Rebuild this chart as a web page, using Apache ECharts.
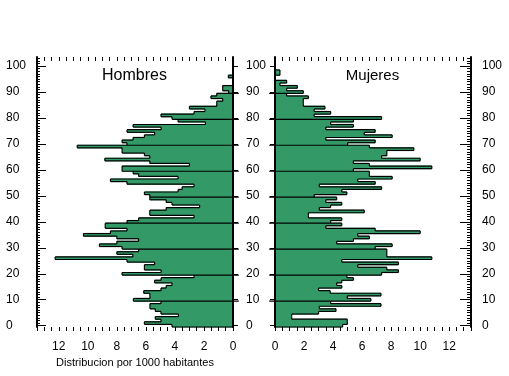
<!DOCTYPE html>
<html>
<head>
<meta charset="utf-8">
<script src="https://cdn.jsdelivr.net/npm/echarts@6/dist/echarts.min.js"></script>
<style>
  html, body { margin: 0; padding: 0; background: #fff; }
  #chart { width: 509px; height: 376px; }
</style>
</head>
<body>
<div id="chart"></div>
<script>
// edades 0..103 (categorias del eje vertical)
var edades = [];
for (var k = 0; k <= 103; k++) edades.push(String(k));

// Hombres, edad 0..100 (por 1000 habitantes)
var hombres = [
  4.2, 6.1, 4.96, 5.35, 3.76, 4.96, 5.35, 5.72, 5.72, 4.96,
  6.86, 5.72, 5.73, 6.15, 4.96, 4.6, 4.2, 5.4, 4.95, 2.68,
  7.64, 4.95, 6.1, 6.1, 5.4, 7.3, 12.25, 6.9, 8.0, 6.5,
  7.64, 9.2, 8.0, 6.5, 8.0, 10.3, 8.44, 7.3, 8.8, 8.8,
  7.3, 6.5, 2.68, 5.73, 5.73, 4.6, 2.3, 4.2, 4.6, 5.73,
  5.73, 6.1, 3.78, 3.5, 2.68, 7.3, 8.44, 3.78, 6.5, 6.88,
  7.64, 7.64, 3.0, 5.73, 8.83, 5.73, 6.1, 7.64, 7.64, 10.73,
  7.3, 7.64, 6.88, 6.1, 5.4, 7.3, 4.95, 6.88, 1.9, 3.78,
  4.2, 4.96, 2.68, 1.93, 3.0, 1.12, 1.12, 0.71, 1.52, 1.12,
  0.3, 0.71, 0.71, 0, 0, 0, 0.32, 0, 0, 0,
  0
];

// Mujeres, edad 0..100
var mujeres = [
  4.66, 4.98, 4.98, 1.15, 1.15, 3.0, 4.2, 3.05, 7.3, 3.83,
  6.6, 4.98, 7.3, 3.8, 3.0, 4.6, 4.25, 4.6, 5.4, 4.95,
  7.34, 8.5, 7.7, 5.7, 8.5, 4.6, 10.8, 7.7, 7.7, 7.7,
  6.9, 8.07, 4.25, 5.4, 6.5, 5.7, 10.0, 6.9, 3.5, 4.6,
  3.83, 4.6, 2.3, 2.3, 6.15, 3.05, 3.83, 4.6, 3.5, 4.25,
  2.7, 4.95, 4.6, 7.34, 3.05, 6.9, 5.7, 8.07, 6.5, 6.5,
  5.4, 10.8, 6.5, 5.4, 10.0, 7.34, 7.7, 7.7, 9.56, 6.5,
  5.0, 6.9, 3.5, 8.07, 6.15, 6.9, 3.5, 5.4, 3.83, 5.4,
  7.34, 2.7, 3.83, 2.7, 3.44, 1.95, 1.95, 1.95, 2.3, 0.8,
  1.95, 0.8, 1.54, 0.34, 0.8, 0, 0, 0.34, 0.34, 0,
  0
];

var GREEN = '#339966';
var LW = 1.2;
var FONT = 'Liberation Sans, Arial, sans-serif';

var myChart = echarts.init(document.getElementById('chart'));

// relleno de cada edad (franja verde sin borde)
function renderFill(params, api) {
  var v = api.value(0);
  var i = api.value(1);
  if (!(v > 0)) return null;
  var c = api.coord([v, i]);
  var c0 = api.coord([0, i]);
  var bh = api.size([0, 1])[1];
  return {
    type: 'rect',
    shape: { x: Math.min(c0[0], c[0]), y: c[1] - bh / 2 - 0.5, width: Math.abs(c[0] - c0[0]), height: bh + 1 },
    style: { fill: GREEN }
  };
}

// contorno negro: borde exterior y linea de separacion de cada decenio
function makeOutline(vals) {
  return function (params, api) {
    var v = api.value(0);
    var i = api.value(1);
    var c = api.coord([v, i]);
    var c0 = api.coord([0, i]);
    var bh = api.size([0, 1])[1];
    var yTop = c[1] - bh / 2;
    var yBot = c[1] + bh / 2;
    var line = { stroke: '#000', lineWidth: LW };
    var children = [];
    if (v > 0) {
      children.push({ type: 'line', shape: { x1: c[0], y1: yTop, x2: c[0], y2: yBot }, style: line });
    }
    var next = i + 1 < vals.length ? vals[i + 1] : 0;
    if (i % 10 === 9) {
      var m = Math.max(v, next);
      if (m > 0) {
        children.push({ type: 'line', shape: { x1: api.coord([-0.4, i])[0], y1: yTop, x2: api.coord([m, i])[0], y2: yTop }, style: line });
      }
    } else if (v !== next) {
      children.push({ type: 'line', shape: { x1: c[0], y1: yTop, x2: api.coord([next, i])[0], y2: yTop }, style: line });
    }
    if (i === 0 && v > 0) {
      children.push({ type: 'line', shape: { x1: c0[0], y1: yBot, x2: c[0], y2: yBot }, style: line });
    }
    return { type: 'group', children: children };
  };
}

function xAx(grid, pos, inverse, labels) {
  return {
    type: 'value', gridIndex: grid, position: pos, inverse: inverse,
    min: 0, max: 13.5, interval: 0.5, z: 5,
    axisLine: { onZero: false, lineStyle: { color: '#000', width: 2 } },
    axisTick: { show: true, inside: pos === 'top', length: 4, lineStyle: { color: '#000' } },
    axisLabel: {
      show: labels, color: '#000', fontSize: 12, fontFamily: FONT, margin: 14,
      formatter: function (val) { return val % 2 === 0 ? String(val) : ''; }
    },
    splitLine: { show: false }
  };
}

function yAx(grid, pos, opt) {
  return {
    type: 'category', gridIndex: grid, position: pos, data: edades, z: 5,
    axisLine: { show: opt.line, onZero: false, lineStyle: { color: '#000', width: 2 } },
    axisTick: { show: true, inside: opt.inside, length: opt.len, interval: opt.every, alignWithLabel: true, lineStyle: { color: '#000' } },
    axisLabel: {
      show: opt.labels, interval: 9, color: '#000', fontSize: 12, fontFamily: FONT,
      align: 'left', margin: opt.margin || 8
    },
    splitLine: { show: false }
  };
}

var xLeft = xAx(0, 'bottom', true, true);
xLeft.name = 'Distribucion por 1000 habitantes';
xLeft.nameLocation = 'middle';
xLeft.nameGap = 30;
xLeft.nameTextStyle = { color: '#000', fontSize: 11, fontFamily: FONT };

var option = {
  animation: false,
  backgroundColor: '#fff',
  grid: [
    { left: 37, top: 57, width: 196, height: 270 },
    { left: 275, top: 57, width: 196, height: 270 }
  ],
  xAxis: [
    xLeft,
    xAx(0, 'top', true, false),
    xAx(1, 'bottom', false, true),
    xAx(1, 'top', false, false)
  ],
  yAxis: [
    yAx(0, 'left', { line: true, inside: true, len: 9, every: 9, labels: true, margin: 31 }),
    yAx(0, 'left', { line: false, inside: true, len: 3, every: 0, labels: false }),
    yAx(0, 'right', { line: true, inside: false, len: 5, every: 9, labels: false }),
    yAx(1, 'left', { line: true, inside: false, len: 5, every: 9, labels: true, margin: 29 }),
    yAx(1, 'right', { line: true, inside: true, len: 11, every: 9, labels: true, margin: 11 }),
    yAx(1, 'right', { line: false, inside: true, len: 4, every: 0, labels: false })
  ],
  graphic: [
    { type: 'text', x: 134.5, y: 76, style: { text: 'Hombres', fill: '#000', fontSize: 16, fontFamily: FONT, align: 'center', verticalAlign: 'middle' } },
    { type: 'text', x: 372.5, y: 76, style: { text: 'Mujeres', fill: '#000', fontSize: 15, fontFamily: FONT, align: 'center', verticalAlign: 'middle' } }
  ],
  series: [
    {
      name: 'Hombres', type: 'custom', xAxisIndex: 0, yAxisIndex: 0, z: 2,
      renderItem: renderFill,
      data: hombres.map(function (v, i) { return [v, i]; })
    },
    {
      name: 'Hombres borde', type: 'custom', xAxisIndex: 0, yAxisIndex: 0, z: 3,
      renderItem: makeOutline(hombres),
      data: hombres.map(function (v, i) { return [v, i]; })
    },
    {
      name: 'Mujeres', type: 'custom', xAxisIndex: 2, yAxisIndex: 3, z: 2,
      renderItem: renderFill,
      data: mujeres.map(function (v, i) { return [v, i]; })
    },
    {
      name: 'Mujeres borde', type: 'custom', xAxisIndex: 2, yAxisIndex: 3, z: 3,
      renderItem: makeOutline(mujeres),
      data: mujeres.map(function (v, i) { return [v, i]; })
    }
  ]
};

myChart.setOption(option);
</script>
</body>
</html>
